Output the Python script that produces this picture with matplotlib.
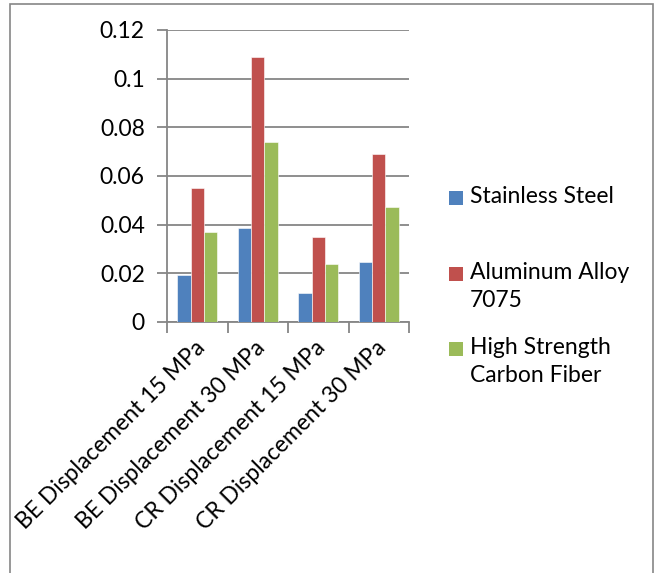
import numpy as np
import matplotlib
matplotlib.use('Agg')
import matplotlib.pyplot as plt
from matplotlib.patches import Rectangle

plt.rcParams['font.family'] = ['Lato', 'DejaVu Sans']

# data
categories = ['BE Displacement 15 MPa', 'BE Displacement 30 MPa',
              'CR Displacement 15 MPa', 'CR Displacement 30 MPa']
series = ['Stainless Steel', 'Aluminum Alloy\n7075', 'High Strength\nCarbon Fiber']
stainless = [0.0193, 0.0386, 0.0120, 0.0247]
aluminum = [0.0551, 0.1090, 0.0348, 0.0689]
carbon = [0.0370, 0.0738, 0.0237, 0.0474]
yticks = [0, 0.02, 0.04, 0.06, 0.08, 0.1, 0.12]
ytick_labels = ['0', '0.02', '0.04', '0.06', '0.08', '0.1', '0.12']

colors = ['#4F81BD', '#C0504D', '#9BBB59']
grey = '#868686'
fs = 16.5

fig = plt.figure(figsize=(6.58, 5.73), dpi=100)
W, H = 658, 573

# outer chart border
fig.patches.append(Rectangle((10 / W, -0.1), 643 / W, 1.1 - 4 / H, transform=fig.transFigure,
                             fill=False, edgecolor=grey, linewidth=1.2))

ax = fig.add_axes([167 / W, 1 - 322 / H, 242 / W, 292 / H])

x = np.arange(len(categories))
w = 0.22
for i, vals in enumerate([stainless, aluminum, carbon]):
    ax.bar(x + (i - 1) * w, vals, width=w, color=colors[i], edgecolor='white',
           linewidth=0.4, zorder=3)

ax.set_xlim(-0.5, len(categories) - 0.5)
ax.set_ylim(0, 0.12)
ax.set_yticks(yticks)
ax.set_yticklabels(ytick_labels)
ax.yaxis.grid(True, color=grey, linewidth=1.3, zorder=1)
ax.tick_params(axis='y', direction='out', length=7, width=1.3, color=grey,
               labelsize=fs, pad=9)

# category boundary ticks on x
ax.set_xticks(np.arange(len(categories) + 1) - 0.5)
ax.set_xticklabels([])
ax.tick_params(axis='x', direction='out', length=8, width=1.3, color=grey)
for xi, lab in zip(x, categories):
    ax.annotate(lab, xy=(xi, 0), xycoords=('data', 'axes fraction'),
                xytext=(3, -16), textcoords='offset points',
                rotation=45, ha='right', va='center', rotation_mode='anchor',
                fontsize=fs)

for s in ['top', 'right']:
    ax.spines[s].set_visible(False)
for s in ['left', 'bottom']:
    ax.spines[s].set_color(grey)
    ax.spines[s].set_linewidth(1.3)

# legend drawn at figure level
leg_y = [198, 274, 349]
for c, lab, yy in zip(colors, series, leg_y):
    fig.patches.append(Rectangle((449 / W, 1 - (yy + 7) / H), 14 / W, 14 / H,
                                 transform=fig.transFigure, facecolor=c,
                                 edgecolor='none'))
    fig.text(470 / W, 1 - (yy - 12) / H, lab, fontsize=fs, va='top', ha='left',
             linespacing=1.4)

fig.savefig('out.png', dpi=100)
